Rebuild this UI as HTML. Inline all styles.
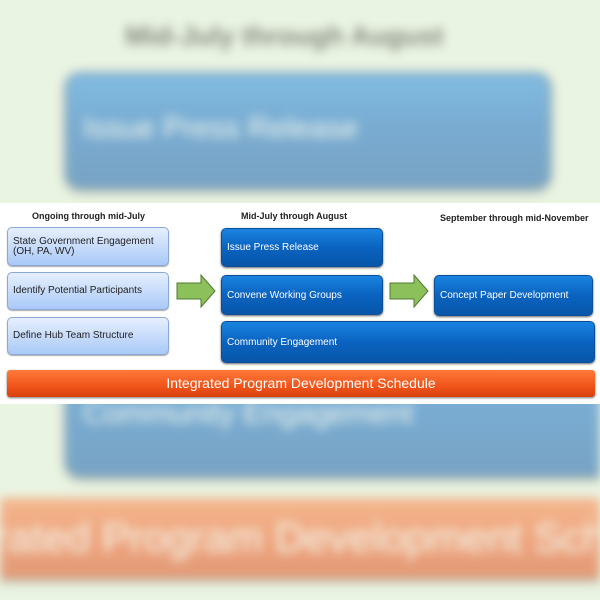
<!DOCTYPE html>
<html><head><style>
*{margin:0;padding:0;box-sizing:border-box}
html,body{width:600px;height:600px;overflow:hidden}
body{background:#eaf4e2;position:relative;font-family:"Liberation Sans",sans-serif}
.strip{position:absolute;left:0;top:203px;width:600px;height:201px;background:#fff}
.bg{position:absolute;left:0;top:0;width:600px;height:600px;overflow:hidden;filter:blur(5px);opacity:.5}
.bg .strip{transform-origin:0 0;transform:translate(-598px,-206px) scale(3);background:transparent}
.h{position:absolute;font-size:9px;font-weight:bold;color:#222;white-space:nowrap}
.lb{position:absolute;left:7px;width:162px;border-radius:5px;border:1px solid #8aa9d6;background:linear-gradient(#e6efff,#a9c9f7);color:#222;font-size:10px;padding-left:5px;display:flex;align-items:center;line-height:10px;box-shadow:0 1px 1px #aaa}
.db{position:absolute;border-radius:5px;background:linear-gradient(#1a84e0,#0a63c0 50%,#0856a8);color:#fff;font-size:10px;padding-left:5px;display:flex;align-items:center;box-shadow:0 1px 2px #666;border:1px solid #0a4e98}
.ar{position:absolute;width:40px;height:34px}
.or{position:absolute;left:7px;top:167px;width:588px;height:27px;border-radius:3px;background:linear-gradient(#ff7a3a,#f0541a 60%,#d8400c);color:#fff;font-size:14px;text-align:center;line-height:27px;box-shadow:0 1px 2px #777}
</style></head><body>
<div class="bg"><div class="strip">
<div class="h" style="left:32px;top:8px">Ongoing through mid-July</div>
<div class="h" style="left:241px;top:8px">Mid-July through August</div>
<div class="h" style="left:440px;top:10px">September through mid-November</div>
<div class="lb" style="top:24px;height:39px">State Government Engagement<br>(OH, PA, WV)</div>
<div class="lb" style="top:69px;height:38px">Identify Potential Participants</div>
<div class="lb" style="top:114px;height:38px">Define Hub Team Structure</div>
<div class="db" style="left:221px;top:25px;width:162px;height:39px">Issue Press Release</div>
<div class="db" style="left:221px;top:72px;width:162px;height:40px">Convene Working Groups</div>
<div class="db" style="left:434px;top:72px;width:159px;height:41px">Concept Paper Development</div>
<div class="db" style="left:221px;top:118px;width:374px;height:42px">Community Engagement</div>
<div class="or">Integrated Program Development Schedule</div>
</div></div>
<div class="strip">
<div class="h" style="left:32px;top:8px">Ongoing through mid-July</div>
<div class="h" style="left:241px;top:8px">Mid-July through August</div>
<div class="h" style="left:440px;top:10px">September through mid-November</div>
<div class="lb" style="top:24px;height:39px">State Government Engagement<br>(OH, PA, WV)</div>
<div class="lb" style="top:69px;height:38px">Identify Potential Participants</div>
<div class="lb" style="top:114px;height:38px">Define Hub Team Structure</div>
<svg class="ar" style="left:176px;top:71px" viewBox="0 0 40 34"><polygon points="1,9 25,9 25,1 39,17 25,33 25,25 1,25" fill="#8cc05a" stroke="#4f7a30" stroke-width="1"/></svg>
<svg class="ar" style="left:389px;top:71px" viewBox="0 0 40 34"><polygon points="1,9 25,9 25,1 39,17 25,33 25,25 1,25" fill="#8cc05a" stroke="#4f7a30" stroke-width="1"/></svg>
<div class="db" style="left:221px;top:25px;width:162px;height:39px">Issue Press Release</div>
<div class="db" style="left:221px;top:72px;width:162px;height:40px">Convene Working Groups</div>
<div class="db" style="left:434px;top:72px;width:159px;height:41px">Concept Paper Development</div>
<div class="db" style="left:221px;top:118px;width:374px;height:42px">Community Engagement</div>
<div class="or">Integrated Program Development Schedule</div>
</div>
</body></html>
